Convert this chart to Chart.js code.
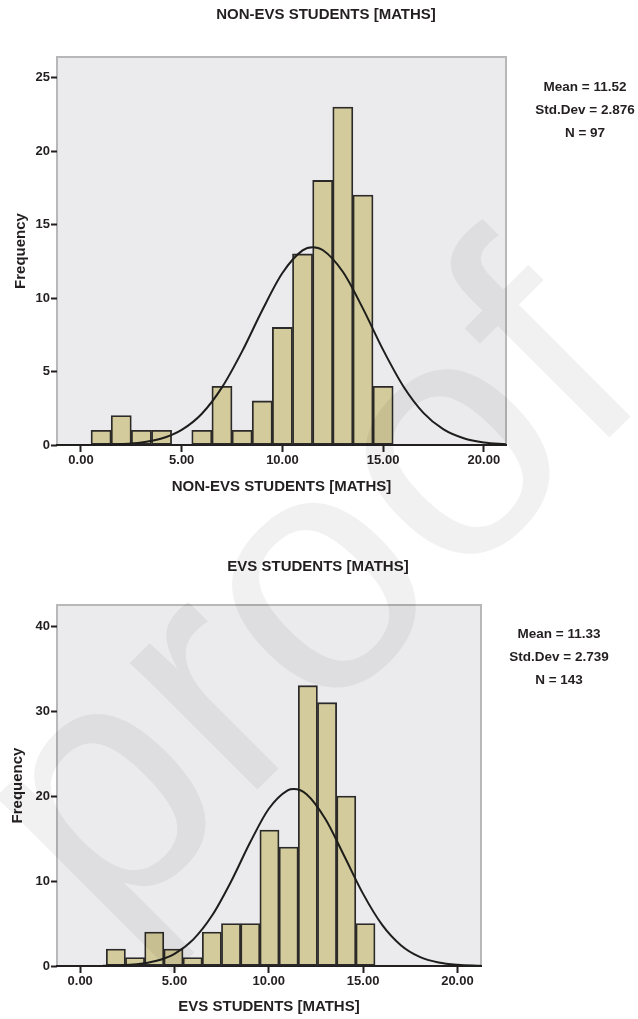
<!DOCTYPE html>
<html>
<head>
<meta charset="utf-8">
<script src="https://cdn.jsdelivr.net/npm/chart.js@4.4.1/dist/chart.umd.min.js"></script>
<style>
  html, body { margin: 0; padding: 0; background: #fff; }
  #page { position: relative; width: 638px; height: 1019px; overflow: hidden; }
  #page canvas { position: absolute; left: 0; }
  #topChart { top: 0; }
  #bottomChart { top: 510px; }
  #mark { top: 0; pointer-events: none; }
</style>
</head>
<body>
<div id="page">
  <canvas id="topChart" width="638" height="510"></canvas>
  <canvas id="bottomChart" width="638" height="509"></canvas>
  <canvas id="mark" width="638" height="1019"></canvas>
</div>
<script>
// ---- data ----

// NON-EVS histogram (bin centres + frequencies)
const nonEvsBins   = [1, 2, 3, 4, 5, 6, 7, 8, 9, 10, 11, 12, 13, 14, 15];
const nonEvsCounts = [1, 2, 1, 1, 0, 1, 4, 1, 3, 8, 13, 18, 23, 17, 4];
// fitted normal curve
const nonEvsCurveX = [-1.2, 0, 1, 2, 3, 4, 5, 6, 7, 8, 9, 10, 11, 11.5, 12, 13, 14, 15, 16, 17, 18, 19, 20, 21.1];
const nonEvsCurveY = [0.0, 0.0, 0.02, 0.06, 0.17, 0.44, 1.03, 2.13, 3.92, 6.37, 9.17, 11.7, 13.24, 13.46, 13.27, 11.79, 9.28, 6.47, 4.0, 2.19, 1.06, 0.46, 0.17, 0.05];
const nonEvsStats  = ["Mean = 11.52", "Std.Dev = 2.876", "N = 97"];
const nonEvsYTicks = [0, 5, 10, 15, 20, 25];

// EVS histogram
const evsBins   = [1.89, 2.908, 3.926, 4.944, 5.962, 6.98, 7.998, 9.016, 10.034, 11.052, 12.07, 13.088, 14.106, 15.124];
const evsCounts = [2, 1, 4, 2, 1, 4, 5, 5, 16, 14, 33, 31, 20, 5];
const evsCurveX = [1.2, 2, 3, 4, 5, 6, 7, 8, 9, 10, 11, 11.33, 12, 13, 14, 15, 16, 17, 18, 19, 20, 21.25];
const evsCurveY = [0.02, 0.06, 0.2, 0.58, 1.44, 3.14, 5.97, 9.95, 14.5, 18.51, 20.68, 20.83, 20.22, 17.3, 12.95, 8.49, 4.87, 2.45, 1.07, 0.41, 0.14, 0.03];
const evsStats  = ["Mean = 11.33", "Std.Dev = 2.739", "N = 143"];
const evsYTicks = [0, 10, 20, 30, 40];

const xTicks = [0, 5, 10, 15, 20];

const INK = '#231f20';
const FONT = '"Liberation Sans", Arial, sans-serif';
Chart.defaults.font.family = FONT;

// grey plot panel + frame (bottom edge is covered by the dark x axis line)
const framePlugin = {
    id: 'frame',
    beforeDraw(chart) {
        const { ctx, chartArea: a } = chart;
        ctx.save();
        ctx.fillStyle = '#EBEBEE';
        ctx.fillRect(a.left, a.top, a.right - a.left, a.bottom - a.top);
        ctx.strokeStyle = '#B8B8B8';
        ctx.lineWidth = 2;
        ctx.strokeRect(a.left, a.top, a.right - a.left, a.bottom - a.top);
        ctx.restore();
    }
};

// chart title + the Mean / Std.Dev / N block on the right
const textPlugin = {
    id: 'sheetText',
    afterDraw(chart, args, opts) {
        const ctx = chart.ctx;
        ctx.save();
        ctx.fillStyle = INK;
        ctx.textAlign = 'center';
        ctx.textBaseline = 'middle';
        ctx.font = 'bold 15px ' + FONT;
        ctx.fillText(opts.title, opts.titleX, opts.titleY);
        ctx.font = 'bold 13.5px ' + FONT;
        opts.lines.forEach((t, i) => ctx.fillText(t, opts.linesX, opts.linesY + i * opts.gap));
        ctx.restore();
    }
};

function makeHistogram(id, cfg) {
    const bars = cfg.bins.map((x, i) => ({ x: x, y: cfg.counts[i] }));
    const curve = cfg.curveX.map((x, i) => ({ x: x, y: cfg.curveY[i] }));

    return new Chart(document.getElementById(id), {
        type: 'bar',
        data: {
            datasets: [
                {
                    type: 'line',
                    data: curve,
                    borderColor: '#1d1d1b',
                    borderWidth: 2,
                    pointRadius: 0,
                    cubicInterpolationMode: 'monotone',
                    fill: false,
                    order: 0
                },
                {
                    type: 'bar',
                    data: bars,
                    backgroundColor: '#D3CB9B',
                    borderColor: '#2b2a29',
                    borderWidth: 1.8,
                    borderSkipped: false,
                    barPercentage: 1,
                    categoryPercentage: 1,
                    order: 1
                }
            ]
        },
        options: {
            responsive: false,
            animation: false,
            layout: { padding: { top: cfg.padTop, right: cfg.padRight, left: 0, bottom: 0 } },
            plugins: {
                legend: { display: false },
                tooltip: { enabled: false },
                sheetText: {
                    title: cfg.title, titleX: cfg.titleX, titleY: cfg.titleY,
                    lines: cfg.stats, linesX: cfg.statsX, linesY: cfg.statsY, gap: 23
                }
            },
            scales: {
                x: {
                    type: 'linear',
                    offset: false,
                    min: cfg.xMin,
                    max: cfg.xMax,
                    afterBuildTicks: s => { s.ticks = xTicks.map(v => ({ value: v })); },
                    afterFit: s => { s.height = cfg.xAxisHeight; },
                    ticks: {
                        callback: v => Number(v).toFixed(2),
                        font: { size: 13, weight: 'bold' },
                        color: INK,
                        padding: 1,
                        maxRotation: 0,
                        autoSkip: false
                    },
                    grid: { offset: false, drawOnChartArea: false, drawTicks: true, tickLength: 7, tickColor: INK, tickWidth: 2 },
                    border: { display: true, color: INK, width: 2 },
                    title: {
                        display: true,
                        text: cfg.xTitle,
                        font: { size: 15, weight: 'bold' },
                        color: INK,
                        padding: { top: 0, bottom: cfg.xTitlePad }
                    }
                },
                y: {
                    min: 0,
                    max: cfg.yMax,
                    afterBuildTicks: s => { s.ticks = cfg.yTicks.map(v => ({ value: v })); },
                    afterFit: s => { s.width = 57; },
                    ticks: {
                        font: { size: 13, weight: 'bold' },
                        color: INK,
                        padding: 1
                    },
                    grid: { drawOnChartArea: false, drawTicks: true, tickLength: 6, tickColor: INK, tickWidth: 2 },
                    border: { display: false },
                    title: {
                        display: true,
                        text: 'Frequency',
                        font: { size: 15, weight: 'bold' },
                        color: INK,
                        padding: { top: cfg.yTitlePad, bottom: 0 }
                    }
                }
            }
        },
        plugins: [framePlugin, textPlugin]
    });
}

makeHistogram('topChart', {
    bins: nonEvsBins, counts: nonEvsCounts,
    curveX: nonEvsCurveX, curveY: nonEvsCurveY,
    stats: nonEvsStats, yTicks: nonEvsYTicks,
    title: 'NON-EVS STUDENTS [MATHS]', titleX: 326, titleY: 15,
    statsX: 585, statsY: 87,
    xTitle: 'NON-EVS STUDENTS [MATHS]',
    xMin: -1.19, xMax: 21.1, yMax: 26.4,
    padTop: 57, padRight: 132, xAxisHeight: 65, xTitlePad: 14, yTitlePad: 12
});

makeHistogram('bottomChart', {
    bins: evsBins, counts: evsCounts,
    curveX: evsCurveX, curveY: evsCurveY,
    stats: evsStats, yTicks: evsYTicks,
    title: 'EVS STUDENTS [MATHS]', titleX: 318, titleY: 57,
    statsX: 559, statsY: 124,
    xTitle: 'EVS STUDENTS [MATHS]',
    xMin: -1.23, xMax: 21.25, yMax: 42.5,
    padTop: 95, padRight: 157, xAxisHeight: 53, xTitlePad: 3.5, yTitlePad: 8.5
});

// faint "proof" watermark laid over the whole sheet
const mark = document.getElementById('mark').getContext('2d');
mark.save();
mark.translate(107, 940);
mark.rotate(-45 * Math.PI / 180);
mark.font = '340px ' + FONT;
mark.fillStyle = 'rgba(0, 0, 0, 0.055)';
mark.fillText('proof', 0, 0);
mark.restore();
</script>
</body>
</html>
